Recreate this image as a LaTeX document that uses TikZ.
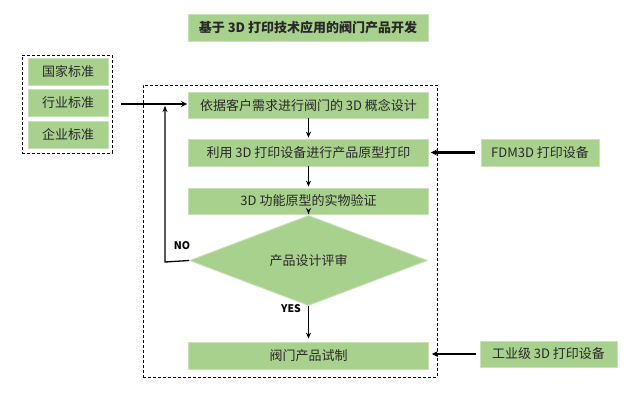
\documentclass[tikz,border=0pt]{standalone}
\usepackage{fontspec}
\setmainfont{Noto Sans CJK SC}
\usetikzlibrary{shapes.geometric,arrows.meta}
\definecolor{boxgreen}{RGB}{169,209,142}
\definecolor{boxedge}{RGB}{200,226,184}
\definecolor{txt}{RGB}{40,40,40}
\begin{document}
\begin{tikzpicture}[x=1pt,y=-1pt,
  gbox/.style={rectangle,fill=boxgreen,draw=boxedge,line width=0.8pt,inner sep=0pt,text=txt,font=\fontsize{13}{15}\selectfont},
  flowarrow/.style={-{Stealth[length=6pt,width=5pt]},line width=1.3pt},
  bigarrow/.style={-{Stealth[length=6pt,width=6pt]},line width=2.6pt},
  dashbox/.style={draw=black,densely dashed,line width=0.7pt},
  lbl/.style={font=\fontsize{10.5}{12}\selectfont\bfseries,text=black,inner sep=0pt}]
\useasboundingbox (0,0) rectangle (640,405);
\fill[white] (0,0) rectangle (640,405);
% title
\node[gbox,minimum width=240pt,minimum height=27pt,font=\fontsize{13}{15}\selectfont\bfseries] (title) at (308,27.5) {基于 3D 打印技术应用的阀门产品开发};
% left group
\node[dashbox,minimum width=90pt,minimum height=98pt,inner sep=0pt] (grp) at (67,104) {};
\node[gbox,minimum width=80pt,minimum height=27pt] (s1) at (68,71.5) {国家标准};
\node[gbox,minimum width=80pt,minimum height=27pt] (s2) at (68,102.5) {行业标准};
\node[gbox,minimum width=80pt,minimum height=27pt] (s3) at (68,134.5) {企业标准};
% main dashed frame
\node[dashbox,minimum width=294pt,minimum height=292pt,inner sep=0pt] (frame) at (290,231) {};
% flow
\node[gbox,minimum width=240pt,minimum height=26pt] (b1) at (308.5,105) {依据客户需求进行阀门的 3D 概念设计};
\node[gbox,minimum width=240pt,minimum height=27pt] (b2) at (308.5,152.5) {利用 3D 打印设备进行产品原型打印};
\node[gbox,minimum width=240pt,minimum height=26pt] (b3) at (308.5,201) {3D 功能原型的实物验证};
\node[diamond,fill=boxgreen,draw=boxedge,line width=0.8pt,inner sep=0pt,minimum width=238pt,minimum height=47pt,text=txt,font=\fontsize{13}{15}\selectfont] (d) at (308.5,260.5) {产品设计评审};
\node[gbox,minimum width=240pt,minimum height=27pt] (b4) at (308.5,355.5) {阀门产品试制};
% external
\node[gbox,minimum width=118pt,minimum height=27pt] (fdm) at (540,152.5) {FDM3D 打印设备};
\node[gbox,minimum width=137pt,minimum height=26pt] (ind) at (548.5,354) {工业级 3D 打印设备};
% arrows
\draw[flowarrow,shorten >=1pt] (b1) -- (b2);
\draw[flowarrow,shorten >=1pt] (b2) -- (b3);
\draw[flowarrow,shorten >=1pt] (b3) -- (d);
\draw[flowarrow,shorten >=3pt] (d) -- (b4);
\coordinate (nocorner) at (165,262);
\coordinate (notop) at (165,106);
\draw[flowarrow] (d.west) -- (nocorner) -- (notop);
\coordinate (stdstart) at (121,104);
\draw[bigarrow,shorten >=1pt] (stdstart) -- (b1.west |- stdstart);
\draw[bigarrow,shorten <=6pt,shorten >=2pt] (fdm.west) -- (b2.east);
\draw[bigarrow,shorten <=4pt,shorten >=3pt] (ind.west) -- (ind.west -| b4.east);
\node[lbl] (no) at (182,246) {NO};
\node[lbl] (yes) at (291,309) {YES};
\end{tikzpicture}
\end{document}
